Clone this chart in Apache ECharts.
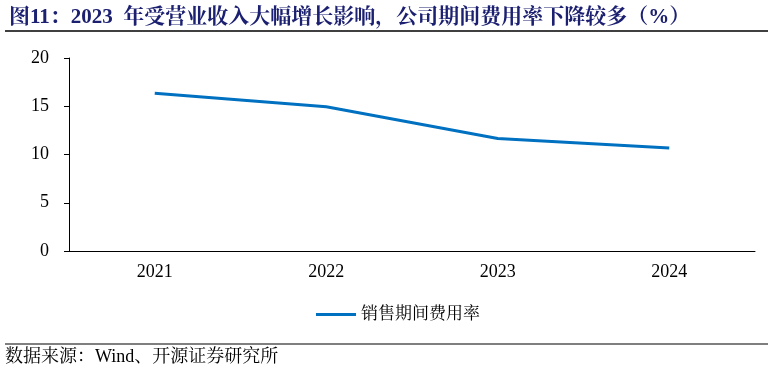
<!DOCTYPE html>
<html><head><meta charset="utf-8">
<script src="https://cdn.jsdelivr.net/npm/echarts@6/dist/echarts.min.js"></script>
<style>html,body{margin:0;padding:0;background:#fff}#c{width:774px;height:374px}</style>
</head><body><div id="c"></div>
<script>
const categories = ['2021', '2022', '2023', '2024'];
const salesExpenseRate = [16.35, 14.95, 11.65, 10.67];
const seriesName = '销售期间费用率';
const titleText = '图11：2023  年受营业收入大幅增长影响，公司期间费用率下降较多（%）';
const sourceText = '数据来源：Wind、开源证券研究所';

const FONT = '"Liberation Serif", "Noto Serif CJK SC", "Noto Sans CJK SC", serif';
const chart = echarts.init(document.getElementById('c'), null, {renderer: 'canvas'});
chart.setOption({
  animation: false,
  backgroundColor: '#fff',
  grid: {left: 69, right: 19, top: 58, bottom: 123, containLabel: false},
  xAxis: {
    type: 'category', data: categories, boundaryGap: true,
    axisLine: {lineStyle: {color: '#000', width: 1}},
    axisTick: {show: false},
    axisLabel: {color: '#000', fontSize: 18, fontFamily: FONT, margin: 12}
  },
  yAxis: {
    type: 'value', min: 0, max: 20, interval: 5,
    axisLine: {show: true, lineStyle: {color: '#000', width: 1}},
    axisTick: {show: true, length: 5, lineStyle: {color: '#000'}},
    splitLine: {show: false},
    axisLabel: {color: '#000', fontSize: 18, fontFamily: FONT, margin: 20}
  },
  legend: {
    top: 301, left: 311, itemWidth: 40, itemHeight: 3, itemGap: 8,
    icon: 'rect',
    textStyle: {fontSize: 17, fontFamily: FONT, color: '#000'},
    data: [seriesName]
  },
  title: {
    text: titleText, left: 4, top: 2,
    textStyle: {fontSize: 21, fontWeight: 'bold', color: '#1C2070', fontFamily: FONT}
  },
  graphic: [
    {type: 'line', shape: {x1: 5, y1: 31, x2: 768, y2: 31}, style: {stroke: '#000', lineWidth: 1.5}},
    {type: 'line', shape: {x1: 5, y1: 344, x2: 768, y2: 344}, style: {stroke: '#000', lineWidth: 1.2}},
    {type: 'text', left: 5, top: 348, style: {text: sourceText, fontSize: 18, fontFamily: FONT, fill: '#000'}}
  ],
  series: [{
    name: seriesName, type: 'line', data: salesExpenseRate,
    symbol: 'none', lineStyle: {color: '#0070C0', width: 3},
    itemStyle: {color: '#0070C0'}
  }]
});
</script></body></html>
